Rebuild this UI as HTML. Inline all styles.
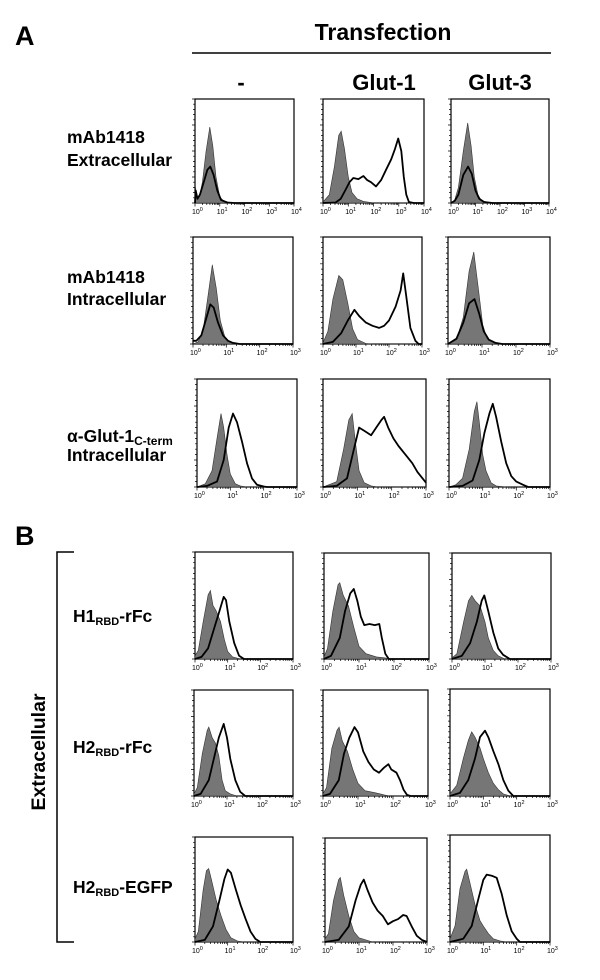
<!DOCTYPE html>
<html>
<head>
<meta charset="utf-8">
<style>
  html,body{margin:0;padding:0;background:#fff;}
  svg{display:block;font-family:"Liberation Sans",Arial,sans-serif;}
  .lbl{font-weight:bold;font-size:17.5px;fill:#000;}
</style>
</head>
<body>
<svg id="fig" width="600" height="980" viewBox="0 0 600 980" xmlns="http://www.w3.org/2000/svg">
  <text x="15" y="45" font-size="27" font-weight="bold">A</text>
  <text x="383" y="40" font-size="23" font-weight="bold" text-anchor="middle">Transfection</text>
  <line x1="192" y1="53" x2="551" y2="53" stroke="#000" stroke-width="1.5"/>
  <text x="241" y="90" font-size="22" font-weight="bold" text-anchor="middle">-</text>
  <text x="384" y="90" font-size="22" font-weight="bold" text-anchor="middle">Glut-1</text>
  <text x="500" y="90" font-size="22" font-weight="bold" text-anchor="middle">Glut-3</text>

  <text class="lbl" x="67" y="143">mAb1418</text>
  <text class="lbl" x="67" y="166">Extracellular</text>
  <text class="lbl" x="67" y="283">mAb1418</text>
  <text class="lbl" x="67" y="305">Intracellular</text>
  <text class="lbl" x="67" y="442">α-Glut-1<tspan font-size="12" dy="3">C-term</tspan></text>
  <text class="lbl" x="67" y="461">Intracellular</text>

  <text x="15" y="545" font-size="27" font-weight="bold">B</text>
  <path d="M74 552 H57 V942 H74" fill="none" stroke="#000" stroke-width="1.5"/>
  <text x="0" y="0" font-size="19.5" font-weight="bold" text-anchor="middle" transform="translate(45,752) rotate(-90)">Extracellular</text>
  <text class="lbl" x="73" y="622">H1<tspan font-size="11" dy="3">RBD</tspan><tspan dy="-3">-rFc</tspan></text>
  <text class="lbl" x="73" y="753">H2<tspan font-size="11" dy="3">RBD</tspan><tspan dy="-3">-rFc</tspan></text>
  <text class="lbl" x="73" y="893">H2<tspan font-size="11" dy="3">RBD</tspan><tspan dy="-3">-EGFP</tspan></text>
  <g id="panels"></g>
</svg>
<script>
// ---- data: [log10 intensity, % of max count] ----
const r1c1Control=[[0,0],[0.02,15],[0.08,5],[0.2,8],[0.3,20],[0.45,50],[0.6,73],[0.72,55],[0.85,25],[1.0,6],[1.15,2],[1.4,0.5],[1.6,0],[4,0]];
const r1c1Test=[[0,0],[0.03,12],[0.1,4],[0.2,8],[0.35,20],[0.5,32],[0.62,35],[0.75,27],[0.9,12],[1.05,3],[1.3,0.5],[1.6,0],[4,0]];
const r1c2Control=[[0,1],[0.25,8],[0.45,35],[0.62,65],[0.72,69],[0.85,52],[1.0,25],[1.15,10],[1.35,4],[1.6,1.5],[1.9,0.5],[2,0],[4,0]];
const r1c2Test=[[0,0],[0.5,0.5],[0.7,4],[0.9,13],[1.05,20],[1.2,24],[1.4,23],[1.6,26],[1.75,22],[1.9,20],[2.1,16],[2.3,22],[2.5,32],[2.7,42],[2.85,52],[2.98,62],[3.1,50],[3.2,25],[3.3,8],[3.4,1],[3.6,0],[4,0]];
const r1c3Control=[[0,0],[0.15,3],[0.3,15],[0.5,50],[0.68,77],[0.82,55],[0.95,25],[1.1,8],[1.25,2],[1.6,0.5],[2,0],[4,0]];
const r1c3Test=[[0,0],[0.15,2],[0.3,8],[0.5,27],[0.7,35],[0.85,28],[1.0,12],[1.15,4],[1.35,1],[1.7,0],[4,0]];
const r2c1Control=[[0,0],[0.15,2],[0.3,12],[0.45,45],[0.58,74],[0.7,52],[0.82,22],[0.95,7],[1.1,2],[1.3,0],[3,0]];
const r2c1Test=[[0,3],[0.1,3],[0.25,8],[0.4,24],[0.52,37],[0.62,34],[0.75,20],[0.9,8],[1.05,3],[1.2,1],[1.4,0],[3,0]];
const r2c2Control=[[0,1],[0.15,12],[0.3,42],[0.48,64],[0.6,60],[0.75,38],[0.9,14],[1.05,4],[1.3,0.5],[1.5,0],[3,0]];
const r2c2Test=[[0,0],[0.3,2],[0.55,10],[0.75,22],[0.95,32],[1.1,26],[1.3,20],[1.5,17],[1.7,15],[1.85,17],[2.0,22],[2.2,35],[2.35,50],[2.43,66],[2.52,45],[2.65,15],[2.8,3],[2.9,0],[3,0]];
const r2c3Control=[[0,0],[0.25,4],[0.45,25],[0.62,68],[0.76,86],[0.9,50],[1.02,18],[1.15,5],[1.35,1],[1.5,0],[3,0]];
const r2c3Test=[[0,0],[0.25,5],[0.45,20],[0.62,38],[0.78,42],[0.92,28],[1.05,12],[1.2,4],[1.4,1],[1.6,0],[3,0]];
const r3c1Control=[[0,0],[0.25,3],[0.45,15],[0.6,45],[0.72,68],[0.8,55],[0.9,30],[1.0,12],[1.15,3],[1.3,1],[1.5,0],[3,0]];
const r3c1Test=[[0,0],[0.3,1],[0.6,5],[0.8,25],[0.95,55],[1.08,68],[1.2,60],[1.35,42],[1.5,22],[1.65,8],[1.8,2],[2,0.5],[2.1,0],[3,0]];
const r3c2Control=[[0,0],[0.4,5],[0.6,35],[0.75,62],[0.85,68],[0.95,40],[1.05,15],[1.2,4],[1.4,1],[1.6,0],[3,0]];
const r3c2Test=[[0,0],[0.4,1],[0.7,8],[0.9,35],[1.05,55],[1.2,52],[1.4,48],[1.55,55],[1.7,62],[1.78,65],[1.9,55],[2.05,45],[2.2,38],[2.4,30],[2.6,22],[2.75,14],[2.9,8],[3.0,4]];
const r3c3Control=[[0,0],[0.2,2],[0.4,8],[0.6,35],[0.75,70],[0.83,79],[0.9,60],[1.0,30],[1.1,15],[1.25,4],[1.4,1],[1.7,0],[3,0]];
const r3c3Test=[[0,0],[0.4,1],[0.7,6],[0.9,25],[1.05,50],[1.2,68],[1.3,77],[1.4,65],[1.55,42],[1.7,22],[1.85,10],[2.0,5],[2.2,2],[2.35,0],[3,0]];
const r4c1Control=[[0,3],[0.1,8],[0.25,35],[0.4,60],[0.47,64],[0.55,50],[0.65,45],[0.78,35],[0.9,18],[1.0,7],[1.15,2],[1.4,0],[3,0]];
const r4c1Test=[[0,0],[0.2,2],[0.4,10],[0.6,30],[0.75,45],[0.88,58],[0.95,55],[1.05,35],[1.2,15],[1.35,3],[1.5,0],[3,0]];
const r4c2Control=[[0,2],[0.1,10],[0.25,45],[0.4,70],[0.45,72],[0.55,60],[0.7,50],[0.85,30],[1.0,12],[1.2,5],[1.5,2],[1.75,1],[1.9,0],[3,0]];
const r4c2Test=[[0,0],[0.2,3],[0.45,20],[0.6,45],[0.75,62],[0.85,66],[0.95,55],[1.05,40],[1.15,32],[1.3,33],[1.45,32],[1.58,33],[1.65,20],[1.75,5],[1.85,0],[3,0]];
const r4c3Control=[[0,1],[0.15,5],[0.35,35],[0.5,55],[0.6,60],[0.7,55],[0.85,50],[1.0,35],[1.1,20],[1.25,8],[1.4,3],[1.6,0],[3,0]];
const r4c3Test=[[0,0],[0.3,3],[0.55,15],[0.75,35],[0.9,55],[0.98,60],[1.1,45],[1.25,25],[1.4,10],[1.55,4],[1.75,0],[3,0]];
const r5c1Control=[[0,2],[0.1,8],[0.25,40],[0.4,62],[0.45,65],[0.55,55],[0.65,50],[0.75,38],[0.85,15],[0.95,5],[1.1,2],[1.3,0],[3,0]];
const r5c1Test=[[0,0],[0.2,2],[0.45,15],[0.6,35],[0.75,55],[0.9,68],[1.0,55],[1.1,35],[1.25,15],[1.4,4],[1.55,0],[3,0]];
const r5c2Control=[[0,2],[0.1,8],[0.25,45],[0.4,62],[0.46,65],[0.55,52],[0.7,42],[0.85,25],[1.0,12],[1.2,5],[1.5,3],[1.75,1],[1.9,0],[3,0]];
const r5c2Test=[[0,0],[0.2,2],[0.45,15],[0.6,40],[0.75,55],[0.9,65],[1.0,60],[1.15,42],[1.3,32],[1.45,25],[1.6,22],[1.75,27],[1.87,30],[1.95,25],[2.1,22],[2.2,15],[2.3,6],[2.4,1],[2.5,0],[3,0]];
const r5c3Control=[[0,2],[0.2,10],[0.4,35],[0.55,52],[0.65,60],[0.75,55],[0.9,45],[1.0,35],[1.15,22],[1.3,12],[1.45,6],[1.6,2],[1.8,0],[3,0]];
const r5c3Test=[[0,0],[0.3,3],[0.55,15],[0.75,35],[0.9,55],[1.05,61],[1.15,55],[1.3,42],[1.45,30],[1.6,15],[1.75,5],[1.9,0],[3,0]];
const r6c1Control=[[0,3],[0.1,10],[0.25,50],[0.35,68],[0.42,70],[0.5,60],[0.65,40],[0.8,25],[0.95,12],[1.1,4],[1.3,1],[1.5,0],[3,0]];
const r6c1Test=[[0,0],[0.3,2],[0.55,15],[0.75,40],[0.9,60],[1.0,69],[1.1,66],[1.25,50],[1.4,35],[1.55,22],[1.7,10],[1.85,3],[2.0,0],[3,0]];
const r6c2Control=[[0,3],[0.1,8],[0.25,40],[0.4,60],[0.45,62],[0.55,45],[0.7,25],[0.85,10],[1.0,4],[1.2,2],[1.4,0],[3,0]];
const r6c2Test=[[0,0],[0.4,2],[0.7,15],[0.9,40],[1.05,55],[1.14,60],[1.25,50],[1.4,38],[1.55,30],[1.7,25],[1.85,17],[2.0,20],[2.15,22],[2.3,26],[2.4,25],[2.55,15],[2.7,6],[2.85,2],[3.0,0]];
const r6c3Control=[[0,3],[0.15,15],[0.3,50],[0.45,66],[0.5,68],[0.6,55],[0.75,35],[0.9,20],[1.0,15],[1.15,8],[1.3,3],[1.5,1],[1.7,0],[3,0]];
const r6c3Test=[[0,0],[0.4,3],[0.65,15],[0.85,40],[1.0,58],[1.1,63],[1.25,62],[1.4,60],[1.55,45],[1.7,25],[1.85,10],[2.0,3],[2.1,0],[3,0]];
const tickExponents=["0","1","2","3","4"];

// ---- layout (positions only) ----
const panels=[
 {id:"r1c1",x0:195,x1:294,y0:99,y1:203,dec:4,c:r1c1Control,t:r1c1Test},
 {id:"r1c2",x0:323,x1:424,y0:99,y1:203,dec:4,c:r1c2Control,t:r1c2Test},
 {id:"r1c3",x0:451,x1:549,y0:99,y1:203,dec:4,c:r1c3Control,t:r1c3Test},
 {id:"r2c1",x0:193,x1:293,y0:237,y1:344,dec:3,c:r2c1Control,t:r2c1Test},
 {id:"r2c2",x0:323,x1:422,y0:237,y1:344,dec:3,c:r2c2Control,t:r2c2Test},
 {id:"r2c3",x0:448,x1:550,y0:237,y1:344,dec:3,c:r2c3Control,t:r2c3Test},
 {id:"r3c1",x0:197,x1:297,y0:379,y1:487,dec:3,c:r3c1Control,t:r3c1Test},
 {id:"r3c2",x0:323,x1:426,y0:379,y1:487,dec:3,c:r3c2Control,t:r3c2Test},
 {id:"r3c3",x0:449,x1:550,y0:379,y1:487,dec:3,c:r3c3Control,t:r3c3Test},
 {id:"r4c1",x0:195,x1:293,y0:552,y1:659,dec:3,c:r4c1Control,t:r4c1Test},
 {id:"r4c2",x0:324,x1:429,y0:553,y1:659,dec:3,c:r4c2Control,t:r4c2Test},
 {id:"r4c3",x0:452,x1:551,y0:553,y1:659,dec:3,c:r4c3Control,t:r4c3Test},
 {id:"r5c1",x0:194,x1:293,y0:690,y1:796,dec:3,c:r5c1Control,t:r5c1Test},
 {id:"r5c2",x0:323,x1:428,y0:690,y1:796,dec:3,c:r5c2Control,t:r5c2Test},
 {id:"r5c3",x0:450,x1:550,y0:689,y1:796,dec:3,c:r5c3Control,t:r5c3Test},
 {id:"r6c1",x0:195,x1:293,y0:837,y1:942,dec:3,c:r6c1Control,t:r6c1Test},
 {id:"r6c2",x0:325,x1:427,y0:838,y1:942,dec:3,c:r6c2Control,t:r6c2Test},
 {id:"r6c3",x0:450,x1:550,y0:835,y1:942,dec:3,c:r6c3Control,t:r6c3Test}
];
const NS="http://www.w3.org/2000/svg";
const root=document.getElementById("panels");
function mk(tag,attrs,parent){const e=document.createElementNS(NS,tag);for(const k in attrs)e.setAttribute(k,attrs[k]);parent.appendChild(e);return e;}

panels.forEach(p=>{
  const g=mk("g",{},root);
  
  
  const xOf=v=>p.x0+(v/p.dec)*(p.x1-p.x0);
  const yOf=v=>p.y1-(v/100)*(p.y1-p.y0);
  const fr=mk("rect",{x:p.x0,y:p.y0,width:p.x1-p.x0,height:p.y1-p.y0,fill:"#fff",stroke:"#000","stroke-width":1.2},g);
  
  
  let d="M"+xOf(p.c[0][0])+" "+p.y1;
  p.c.forEach(pt=>{d+=" L"+xOf(pt[0]).toFixed(1)+" "+yOf(pt[1]).toFixed(1);});
  d+=" L"+xOf(p.c[p.c.length-1][0])+" "+p.y1+" Z";
  const cf=mk("path",{d:d,fill:"#767676",stroke:"#333","stroke-width":0.6},g);
  
  
  let d2="";
  p.t.forEach((pt,i)=>{d2+=(i?" L":"M")+xOf(pt[0]).toFixed(1)+" "+yOf(pt[1]).toFixed(1);});
  const tl=mk("path",{d:d2,fill:"none",stroke:"#000","stroke-width":1.8,"stroke-linejoin":"round"},g);
  
  
  let tk="";
  for(let dcd=0;dcd<p.dec;dcd++){
    for(let m=1;m<10;m++){
      const x=xOf(dcd+Math.log10(m));
      tk+="M"+x.toFixed(1)+" "+p.y1+" v"+(m===1?3.5:2);
    }
  }
  tk+="M"+xOf(p.dec).toFixed(1)+" "+p.y1+" v3.5";
  for(let i=0;i<=20;i++){
    const y=p.y1-i*(p.y1-p.y0)/20;
    tk+="M"+p.x0+" "+y.toFixed(1)+" h"+(i%5===0?-3:-2);
  }
  const tp=mk("path",{d:tk,stroke:"#000","stroke-width":0.7,fill:"none"},g);
  
  
  for(let i=0;i<=p.dec;i++){
    const t=mk("text",{x:xOf(i)-3,y:p.y1+11,"font-size":7,fill:"#000"},g);
    
    
    t.appendChild(document.createTextNode("10"));
    const s=mk("tspan",{"font-size":5.5,dy:-3},t);
    s.textContent=tickExponents[i];
  }
});
</script>
</body>
</html>
